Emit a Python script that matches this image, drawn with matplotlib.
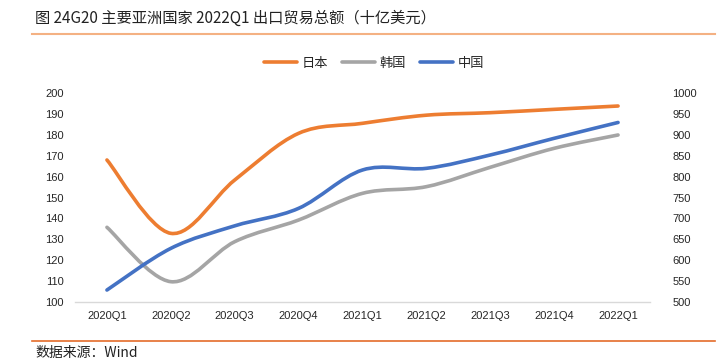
import matplotlib
matplotlib.use("Agg")
import matplotlib.pyplot as plt
from matplotlib.path import Path
from matplotlib.patches import PathPatch
from matplotlib.lines import Line2D

plt.rcParams['font.family'] = ['Noto Sans CJK SC', 'DejaVu Sans']

quarters = ["2020Q1", "2020Q2", "2020Q3", "2020Q4", "2021Q1",
            "2021Q2", "2021Q3", "2021Q4", "2022Q1"]
japan = [168.0, 132.8, 158.4, 180.8, 185.6, 189.5, 190.7, 192.3, 193.9]
korea = [135.7, 109.6, 128.8, 139.2, 152.0, 155.2, 164.5, 173.6, 180.0]
china = [528, 628, 682, 724, 816, 820, 852, 892, 930]
left_ticks = [100, 110, 120, 130, 140, 150, 160, 170, 180, 190, 200]
right_ticks = [500, 550, 600, 650, 700, 750, 800, 850, 900, 950, 1000]

C_JP = "#ED7D31"
C_KR = "#A5A5A5"
C_CN = "#4472C4"


def smooth_path(xs, ys):
    pts = list(zip(xs, ys))
    n = len(pts)
    verts = [pts[0]]
    codes = [Path.MOVETO]
    for i in range(n - 1):
        p0 = pts[i - 1] if i > 0 else pts[i]
        p1 = pts[i]
        p2 = pts[i + 1]
        p3 = pts[i + 2] if i + 2 < n else pts[i + 1]
        c1 = (p1[0] + (p2[0] - p0[0]) / 6, p1[1] + (p2[1] - p0[1]) / 6)
        c2 = (p2[0] - (p3[0] - p1[0]) / 6, p2[1] - (p3[1] - p1[1]) / 6)
        verts += [c1, c2, p2]
        codes += [Path.CURVE4] * 3
    return Path(verts, codes)


fig = plt.figure(figsize=(7.24, 3.64), dpi=100)
ax = fig.add_axes([75 / 724, 1 - 301.7 / 364, 575 / 724, 208.4 / 364])
ax2 = ax.twinx()

x = list(range(len(quarters)))
lw = 2.6
ax.add_patch(PathPatch(smooth_path(x, japan), fill=False, edgecolor=C_JP,
                       lw=lw, capstyle='round', joinstyle='round'))
ax.add_patch(PathPatch(smooth_path(x, korea), fill=False, edgecolor=C_KR,
                       lw=lw, capstyle='round', joinstyle='round'))
ax2.add_patch(PathPatch(smooth_path(x, china), fill=False, edgecolor=C_CN,
                        lw=lw, capstyle='round', joinstyle='round'))

ax.set_xlim(-0.5, len(quarters) - 0.5)
ax.set_ylim(100, 200)
ax2.set_ylim(500, 1000)
ax.set_xticks(x)
ax.set_xticklabels(quarters)
ax.set_yticks(left_ticks)
ax2.set_yticks(right_ticks)

for lab in ax.get_xticklabels() + ax.get_yticklabels() + ax2.get_yticklabels():
    lab.set_fontfamily(['Liberation Sans', 'DejaVu Sans'])
    lab.set_fontsize(8)
    lab.set_color("#262626")

ax.tick_params(axis='both', length=0)
ax.tick_params(axis='y', pad=8)
ax.tick_params(axis='x', pad=7)
ax2.tick_params(axis='y', length=0, pad=16)

for a in (ax, ax2):
    for s in ('top', 'left', 'right', 'bottom'):
        a.spines[s].set_visible(False)
ax.spines['bottom'].set_visible(True)
ax.spines['bottom'].set_color("#D9D9D9")
ax.spines['bottom'].set_linewidth(1.0)

handles = [Line2D([], [], color=C_JP, lw=lw, solid_capstyle='round'),
           Line2D([], [], color=C_KR, lw=lw, solid_capstyle='round'),
           Line2D([], [], color=C_CN, lw=lw, solid_capstyle='round')]
fig.legend(handles, ["日本", "韩国", "中国"], loc='center',
           bbox_to_anchor=(374 / 724, 1 - 63 / 364), ncol=3, frameon=False,
           fontsize=9.5, handlelength=2.5, columnspacing=1.05, handletextpad=0.35,
           labelcolor="#262626")

fig.text(35 / 724, 1 - 18 / 364, "图 24G20 主要亚洲国家 2022Q1 出口贸易总额（十亿美元）",
         fontsize=11, ha='left', va='center', color="#222222")
fig.add_artist(Line2D([32 / 724, 715 / 724], [1 - 34 / 364, 1 - 34 / 364],
                      color="#F4B183", lw=1.5, transform=fig.transFigure))
fig.add_artist(Line2D([32 / 724, 715 / 724], [1 - 341 / 364, 1 - 341 / 364],
                      color="#E46C2A", lw=1.2, transform=fig.transFigure))
fig.text(35 / 724, 1 - 353 / 364, "数据来源：Wind", fontsize=10,
         ha='left', va='center', color="#222222")

fig.savefig("out.png", dpi=100)
